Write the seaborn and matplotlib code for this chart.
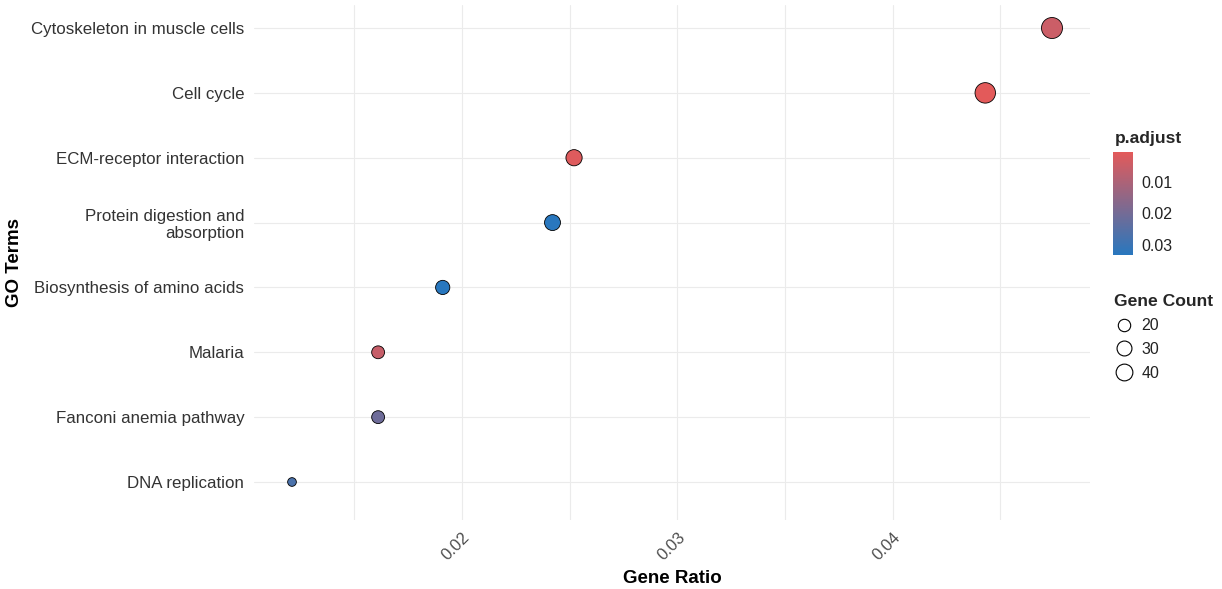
import numpy as np
import pandas as pd
import matplotlib
matplotlib.use("Agg")
import matplotlib.pyplot as plt
import matplotlib.colors as mcolors
from matplotlib.lines import Line2D
import seaborn as sns

# KEGG / GO enrichment results, listed top to bottom
terms = [
    "Cytoskeleton in muscle cells",
    "Cell cycle",
    "ECM-receptor interaction",
    "Protein digestion and\nabsorption",
    "Biosynthesis of amino acids",
    "Malaria",
    "Fanconi anemia pathway",
    "DNA replication",
]
gene_ratio = [0.0474, 0.0443, 0.0252, 0.0242, 0.0191, 0.0161, 0.0161, 0.0121]
gene_count = [47, 44, 25, 24, 19, 16, 16, 12]
p_adjust = [0.0048, 0.0005, 0.0014, 0.0330, 0.0332, 0.0056, 0.0210, 0.0270]

size_legend_counts = [20, 30, 40]
colorbar_ticks = [0.01, 0.02, 0.03]

df = pd.DataFrame({
    "Term": terms,
    "GeneRatio": gene_ratio,
    "Count": gene_count,
    "p.adjust": p_adjust,
})

sns.set_theme(style="white")
plt.rcParams["font.family"] = ["Liberation Sans", "DejaVu Sans"]

W, H, DPI = 1222, 589, 100
fig = plt.figure(figsize=(W / DPI, H / DPI), dpi=DPI)

# panel in pixel coordinates
px_l, px_r, px_t, px_b = 254, 1090, 5, 520
ax = fig.add_axes([px_l / W, 1 - px_b / H, (px_r - px_l) / W, (px_b - px_t) / H])

# colour scale: low p red, high p blue
cmap = mcolors.LinearSegmentedColormap.from_list("padj", ["#E35A5A", "#2877BE"])
p_norm = mcolors.Normalize(vmin=min(p_adjust), vmax=max(p_adjust))

# size scale: diameter grows with sqrt of the rescaled count (area scale)
c_min, c_max = min(gene_count), max(gene_count)
d_lo, d_hi = 8.7 * 72 / DPI, 21.0 * 72 / DPI  # marker diameters in points


def _size_fwd(c):
    t = np.clip((np.asarray(c, dtype=float) - c_min) / (c_max - c_min), 0, 1)
    d = d_lo + np.sqrt(t) * (d_hi - d_lo)
    return d ** 2


def _size_inv(a):
    d = np.sqrt(np.asarray(a, dtype=float))
    t = ((d - d_lo) / (d_hi - d_lo)) ** 2
    return c_min + t * (c_max - c_min)


size_norm = mcolors.FuncNorm((_size_fwd, _size_inv), vmin=c_min, vmax=c_max)

sns.scatterplot(
    data=df, x="GeneRatio", y="Term",
    hue="p.adjust", palette=cmap, hue_norm=p_norm,
    size="Count", sizes=(d_lo ** 2, d_hi ** 2), size_norm=size_norm,
    edgecolor="black", linewidth=0.6, legend=False, zorder=3, ax=ax,
)

# axis ranges with ggplot-like padding
span = max(gene_ratio) - min(gene_ratio)
ax.set_xlim(min(gene_ratio) - 0.05 * span, max(gene_ratio) + 0.05 * span)
ax.set_ylim(len(terms) - 1 + 0.586, -0.355)

ax.set_xticks([0.02, 0.03, 0.04])
ax.set_xticks([0.015, 0.025, 0.035, 0.045], minor=True)
ax.set_xticklabels(["0.02", "0.03", "0.04"], rotation=45, ha="right",
                   rotation_mode="anchor", fontsize=12, color="#4D4D4D")
ax.tick_params(axis="x", which="both", length=0, pad=7)
ax.tick_params(axis="y", length=0, pad=7, labelsize=12.2, labelcolor="#333333")
for lab in ax.get_yticklabels():
    lab.set_horizontalalignment("right")
    lab.set_multialignment("right")

ax.grid(True, which="major", color="#EBEBEB", linewidth=0.8)
ax.grid(True, which="minor", axis="x", color="#EBEBEB", linewidth=0.8)
ax.set_axisbelow(True)
for s in ax.spines.values():
    s.set_visible(False)

ax.set_xlabel("Gene Ratio", fontsize=13.5, fontweight="bold", color="black", labelpad=5)
ax.set_ylabel("GO Terms", fontsize=13.5, fontweight="bold", color="black", labelpad=6)

# colour bar legend
fig.text(1115 / W, 1 - 138 / H, "p.adjust", fontsize=12.6, fontweight="bold",
         va="center", ha="left")
cax = fig.add_axes([1113 / W, 1 - 255 / H, 20 / W, 103 / H])
sm = plt.cm.ScalarMappable(norm=p_norm, cmap=cmap)
cbar = fig.colorbar(sm, cax=cax, ticks=colorbar_ticks)
cbar.outline.set_visible(False)
cax.invert_yaxis()
cax.set_yticklabels([f"{t:.2f}" for t in colorbar_ticks])
cax.tick_params(axis="y", direction="in", length=4, width=1, color="white",
                left=True, right=True, labelsize=11.5, pad=6, labelcolor="#222222")

# size legend
handles = [
    Line2D([], [], linestyle="none", marker="o", markerfacecolor="none",
           markeredgecolor="black", markeredgewidth=0.8,
           markersize=float(np.sqrt(_size_fwd(c))) * 0.85)
    for c in size_legend_counts
]
leg = fig.legend(handles, [str(c) for c in size_legend_counts],
                 title="Gene Count", loc="upper left",
                 bbox_to_anchor=(1108 / W, 1 - 288 / H), frameon=False,
                 fontsize=11.5, title_fontproperties={"weight": "bold", "size": 12.6},
                 handlelength=1.2, handletextpad=0.5, labelspacing=0.55,
                 borderaxespad=0, alignment="left")
for t in leg.get_texts():
    t.set_color("#222222")

fig.savefig("out.png", dpi=DPI, facecolor="white")
